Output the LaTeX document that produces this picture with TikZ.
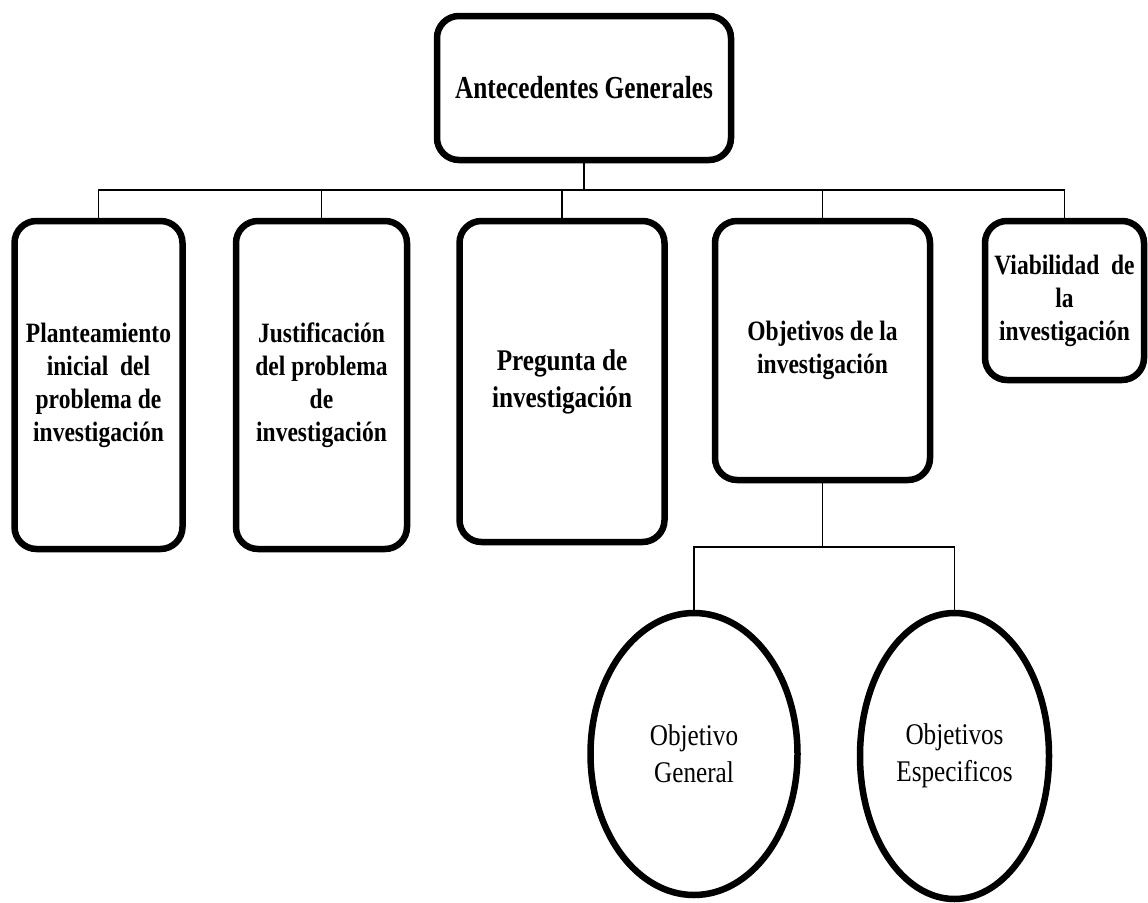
\documentclass[tikz,border=0pt]{standalone}
\usepackage{fontspec}
\setmainfont{Liberation Serif}[FakeStretch=0.84]
\newfontfamily\titulo{Liberation Serif}[FakeStretch=0.79]
\usetikzlibrary{shapes.geometric}

\tikzset{
  caja/.style={draw, line width=6.5pt, rounded corners=22pt, align=center, inner sep=0pt,
    font=\bfseries\fontsize{28}{33}\selectfont},
  elipse/.style={draw, ellipse, line width=6.5pt, align=center, inner sep=0pt,
    font=\fontsize{30}{37}\selectfont},
  linea/.style={line width=1.8pt}
}

\begin{document}
\begin{tikzpicture}[x=1pt,y=-1pt]

    \useasboundingbox (0,0) rectangle (1148,902);

    \node[caja, minimum width=294pt, minimum height=144pt,
      font=\titulo\bfseries\fontsize{32}{38}\selectfont] (antecedentes) at (584,88) {Antecedentes Generales};



    \node[caja, minimum width=168pt, minimum height=328pt] (planteamiento) at (98.5,385)
      {Planteamiento\\inicial\ \ del\\problema de\\investigación};

    \node[caja, minimum width=171pt, minimum height=328pt] (justificacion) at (321.5,385)
      {Justificación\\del problema\\de\\investigación};

    \node[caja, minimum width=205pt, minimum height=321pt,
      font=\bfseries\fontsize{30}{37}\selectfont] (pregunta) at (562,381.5)
      {Pregunta de\\investigación};

    \node[caja, minimum width=215pt, minimum height=259pt] (objetivos) at (822.5,350.5)
      {Objetivos de la\\investigación};

    \node[caja, minimum width=159pt, minimum height=159pt] (viabilidad) at (1064.5,300.5)
      {Viabilidad\ \ de\\la\\investigación};



    \node[elipse, minimum width=207pt, minimum height=282pt] (general) at (694,754)
      {Objetivo\\General};

    \node[elipse, minimum width=189pt, minimum height=286pt] (especificos) at (954.5,756)
      {Objetivos\\Especificos};



    \coordinate (bus) at (584,190);

    \draw[linea] (antecedentes.south) -- (bus);
    \draw[linea] (bus) -| (planteamiento.north);
    \draw[linea] (bus) -| (justificacion.north);
    \draw[linea] (bus) -| (pregunta.north);
    \draw[linea] (bus) -| (objetivos.north);
    \draw[linea] (bus) -| (viabilidad.north);



    \coordinate (bus2) at (822.5,547);

    \draw[linea] (objetivos.south) -- (bus2);
    \draw[linea] (bus2) -| (general.north);
    \draw[linea] (bus2) -| (especificos.north);

  \end{tikzpicture}
\end{document}
